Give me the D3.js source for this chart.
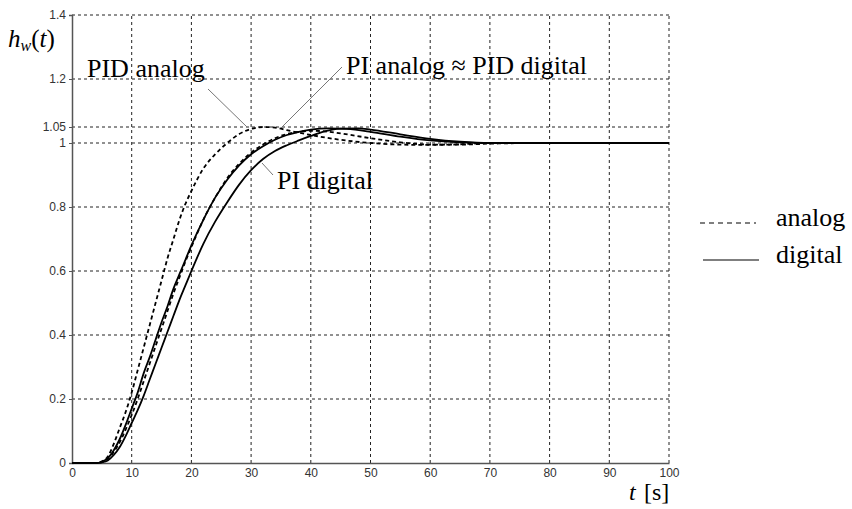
<!DOCTYPE html>
<html><head><meta charset="utf-8">
<script src="https://cdn.jsdelivr.net/npm/d3@7"></script>
<style>body{margin:0;background:#fff}svg{display:block}
.serif{font-family:"Liberation Serif","Times New Roman",Times,serif}
</style>
</head><body>
<svg id="c" width="852" height="509"></svg>
<script>
const xTicks = [0,10,20,30,40,50,60,70,80,90,100];
const yTicks = [0,0.2,0.4,0.6,0.8,1,1.05,1.2,1.4];
const yTickLabels = ["0","0.2","0.4","0.6","0.8","1","1.05","1.2","1.4"];

const pidAnalogT = [0,4,5,6,7,8,9,10,11,12,13,14,15,16,17,18,19,20,22,24,26,28,30,32,34,36,40,45,50,55,60,65,70,80,100];
const pidAnalogV = [0,0,0.005,0.02,0.06,0.11,0.16,0.22,0.29,0.36,0.43,0.50,0.57,0.64,0.70,0.76,0.81,0.85,0.92,0.965,1.0,1.028,1.044,1.05,1.048,1.04,1.025,1.01,1.0,0.995,0.994,0.996,1.0,1.0,1.0];

const piAnalogT = [0,4,5,6,7,8,9,10,11,12,13,14,15,16,17,18,19,20,22,24,26,28,30,32,34,36,38,40,42,45,50,55,60,65,70,80,100];
const piAnalogV = [0,0,0.003,0.012,0.035,0.065,0.105,0.15,0.20,0.255,0.31,0.365,0.42,0.475,0.53,0.58,0.63,0.675,0.76,0.83,0.89,0.935,0.97,0.995,1.015,1.028,1.035,1.038,1.037,1.03,1.015,1.002,0.995,0.995,0.998,1.0,1.0];

const pidDigitalT = [0,4,5,6,7,8,9,10,11,12,13,14,15,16,17,18,19,20,22,24,26,28,30,32,34,36,38,40,43,46,50,55,60,65,70,80,100];
const pidDigitalV = [0,0,0.004,0.015,0.04,0.075,0.12,0.17,0.22,0.28,0.33,0.385,0.44,0.49,0.545,0.59,0.635,0.68,0.76,0.83,0.885,0.93,0.965,0.99,1.01,1.025,1.035,1.042,1.046,1.044,1.035,1.02,1.008,1.002,1.0,1.0,1.0];

const piDigitalT = [0,4,5,6,7,8,9,10,11,12,13,14,15,16,17,18,19,20,22,24,26,28,30,32,34,36,38,40,42,45,48,50,55,60,65,70,80,100];
const piDigitalV = [0,0,0.002,0.008,0.025,0.05,0.085,0.125,0.165,0.21,0.26,0.31,0.36,0.41,0.46,0.51,0.555,0.6,0.685,0.755,0.815,0.87,0.915,0.95,0.975,0.993,1.008,1.022,1.035,1.045,1.046,1.042,1.027,1.013,1.004,1.0,1.0,1.0];

const series = [
  {t: pidAnalogT, v: pidAnalogV, dash: "4,3"},
  {t: piAnalogT, v: piAnalogV, dash: "4,3"},
  {t: pidDigitalT, v: pidDigitalV, dash: null},
  {t: piDigitalT, v: piDigitalV, dash: null}
];

const svg = d3.select("#c");
const x = d3.scaleLinear().domain([0,100]).range([72,669]);
const y = d3.scaleLinear().domain([0,1.4]).range([463,15]);

// grid
const g = svg.append("g");
g.selectAll("line.vg").data(xTicks.filter(d=>d>0)).enter().append("line")
  .attr("x1",d=>x(d)).attr("x2",d=>x(d)).attr("y1",y(0)).attr("y2",y(1.4))
  .attr("stroke","#222").attr("stroke-width",1).attr("stroke-dasharray","3,3");
g.selectAll("line.hg").data(yTicks.filter(d=>d>0)).enter().append("line")
  .attr("x1",x(0)).attr("x2",x(100)).attr("y1",d=>y(d)).attr("y2",d=>y(d))
  .attr("stroke","#222").attr("stroke-width",1).attr("stroke-dasharray","3,3");

// axes
const xAxis = d3.axisBottom(x).tickValues(xTicks).tickSize(0).tickPadding(5).tickFormat(d3.format("d"));
const yAxis = d3.axisLeft(y).tickValues(yTicks).tickSize(3).tickPadding(3).tickFormat((d,i)=>yTickLabels[i]);
const ax = svg.append("g").attr("transform",`translate(0,${y(0)})`).call(xAxis);
const ay = svg.append("g").attr("transform",`translate(${x(0)},0)`).call(yAxis);
[ax,ay].forEach(a=>{
  a.attr("font-family","'Liberation Sans',sans-serif").attr("font-size",12);
  a.select(".domain").attr("stroke","#555").attr("stroke-width",1.5);
  a.selectAll(".tick line").attr("stroke","#555");
  a.selectAll("text").attr("fill","#333");
});
ay.selectAll(".tick text").attr("dy","0.32em");

// curves
const line = d3.line().x(d=>x(d[0])).y(d=>y(d[1])).curve(d3.curveMonotoneX);
series.forEach(s=>{
  const pts = s.t.map((t,i)=>[t,s.v[i]]);
  svg.append("path").attr("d",line(pts)).attr("fill","none").attr("stroke","#000")
    .attr("stroke-width",1.8).attr("stroke-dasharray",s.dash);
});

// axis titles
const ht = svg.append("text").attr("class","serif").attr("x",8).attr("y",47).style("font-size","25px");
ht.append("tspan").style("font-style","italic").text("h");
ht.append("tspan").style("font-style","italic").style("font-size","16px").attr("dy",4).text("w");
ht.append("tspan").attr("dy",-4).text("(");
ht.append("tspan").style("font-style","italic").text("t");
ht.append("tspan").text(")");
const tt = svg.append("text").attr("class","serif").attr("y",500).style("font-size","24px");
tt.append("tspan").attr("x",629).style("font-style","italic").text("t");
tt.append("tspan").attr("x",644).text("[s]");

// annotations
const ann = [
  {text:"PID analog", tx:87, ty:77, lx1:208, ly1:89, lx2:247, ly2:127},
  {text:"PI analog \u2248 PID digital", tx:346, ty:74, lx1:342, ly1:67, lx2:281, ly2:128},
  {text:"PI digital", tx:277, ty:189, lx1:273, ly1:175, lx2:262, ly2:163}
];
ann.forEach(a=>{
  svg.append("line").attr("x1",a.lx1).attr("y1",a.ly1).attr("x2",a.lx2).attr("y2",a.ly2)
    .attr("stroke","#777").attr("stroke-width",1);
  svg.append("text").attr("class","serif").attr("x",a.tx).attr("y",a.ty).style("font-size","26px")
    .attr("fill","#000").text(a.text);
});

// legend
const legend = [{label:"analog", dash:"5,4", y:223, x1:700, x2:756}, {label:"digital", dash:null, y:260, x1:703, x2:759}];
legend.forEach(l=>{
  svg.append("line").attr("x1",l.x1).attr("x2",l.x2).attr("y1",l.y).attr("y2",l.y)
    .attr("stroke","#000").attr("stroke-width",1.2).attr("stroke-dasharray",l.dash);
  svg.append("text").attr("class","serif").attr("x",776).attr("y",l.y+3).style("font-size","26px").text(l.label);
});
</script>
</body></html>
